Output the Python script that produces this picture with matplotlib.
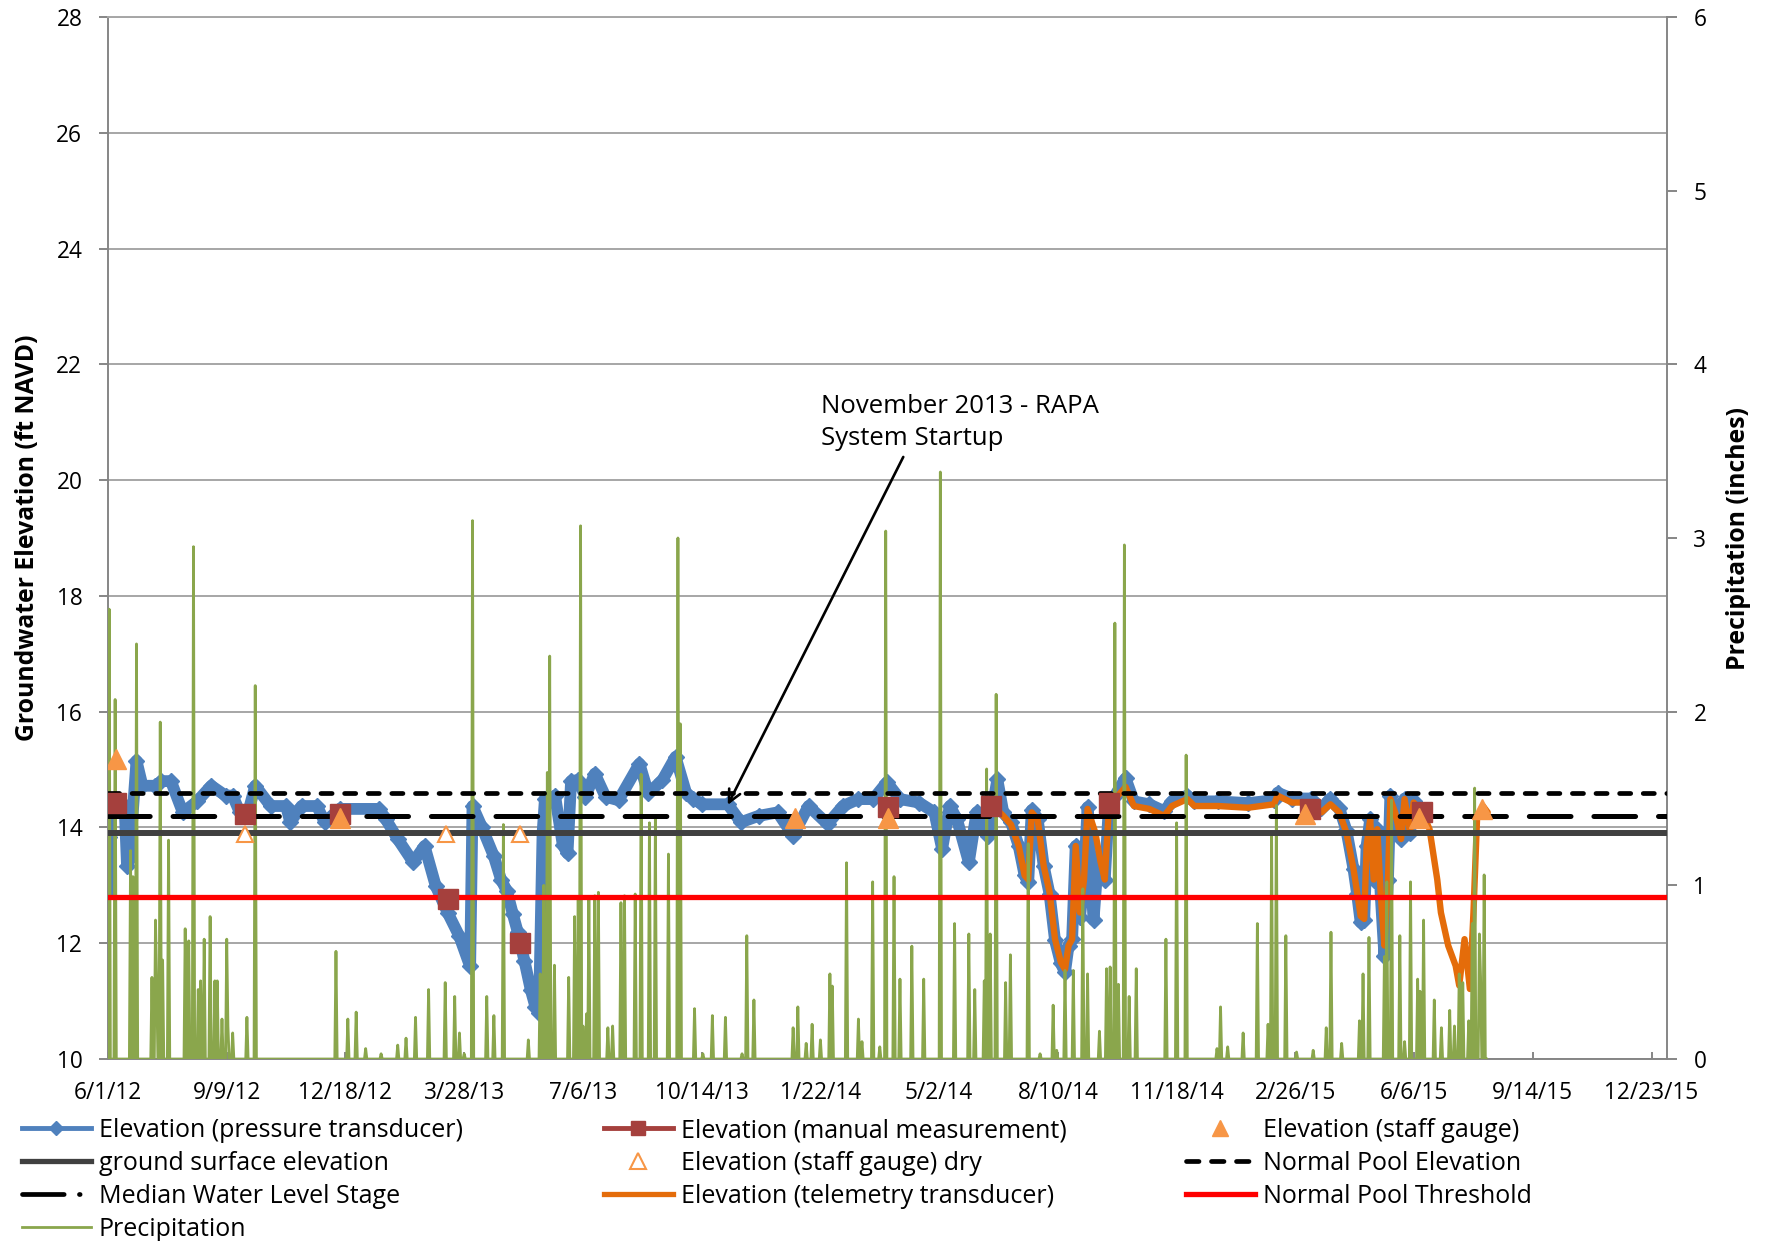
import numpy as np
import matplotlib
matplotlib.use("Agg")
import matplotlib.pyplot as plt
from matplotlib.lines import Line2D
import datetime as dt

plt.rcParams['font.family'] = ['Open Sans', 'DejaVu Sans']
plt.rcParams['lines.scale_dashes'] = False

START = np.datetime64('2012-06-01T00')

# ---------------- data (days after 6/1/2012, values) ----------------
xtick_labels = ['6/1/12', '9/9/12', '12/18/12', '3/28/13', '7/6/13', '10/14/13',
                '1/22/14', '5/2/14', '8/10/14', '11/18/14', '2/26/15', '6/6/15',
                '9/14/15', '12/23/15']

pt_days = [0, 0.5, 1, 14, 16, 18, 24, 29, 40, 45, 53, 63, 75, 87, 99, 105, 111, 118,
           124, 137, 150, 153.5, 163, 176, 182.6, 195, 228, 234, 244, 257, 266.6, 276,
           286, 295.7, 305, 307, 315, 325, 331, 336, 341, 345, 350.7, 356, 360, 363,
           366, 368, 371, 376.5, 383, 387, 390, 396, 402, 410, 419, 430, 447.6, 455,
           467, 478, 487, 493, 500, 522, 533, 548,
           564, 577, 590, 606, 619, 632, 644.5, 656, 667, 683, 696, 702.5, 709, 715,
           725, 731.5, 741, 749, 754, 760.5, 767, 772, 775, 778, 783, 788, 793, 797.6,
           802.5, 806, 809, 812, 815, 818.6, 822, 825, 830, 834, 839.5, 843, 848, 857,
           864, 877, 889.5, 896, 909, 915, 935, 960, 982, 985, 997, 1013, 1022, 1029.5,
           1037, 1043, 1049, 1052, 1055, 1058, 1060, 1063, 1066, 1069, 1072, 1075, 1078,
           1080, 1084, 1089, 1092, 1096.6, 1099.6]
pt_vals = [12.88, 13.83, 14.37, 14.37, 13.34, 13.45, 15.15, 14.72, 14.72, 14.8, 14.8, 14.26,
           14.45, 14.72, 14.55, 14.55, 14.26, 14.26, 14.72, 14.37, 14.37, 14.09, 14.37, 14.37,
           14.09, 14.32, 14.32, 14.14, 13.8, 13.4, 13.68, 12.99, 12.53, 12.13, 11.6, 14.37,
           14.0, 13.5, 13.1, 12.9, 12.5, 12.2, 11.7, 11.2, 10.9, 10.8,
           13.9, 14.5, 14.45, 14.55, 13.7, 13.55, 14.8, 14.82, 14.53, 14.93, 14.53, 14.47,
           15.1, 14.59, 14.82, 15.22, 14.59, 14.5, 14.4, 14.4, 14.09, 14.2,
           14.26, 13.86, 14.37, 14.06, 14.37, 14.49, 14.49, 14.78, 14.49, 14.43, 14.26, 13.63,
           14.37, 14.14, 13.4, 14.26, 13.86, 14.83, 14.26, 14.09, 13.68, 13.17, 13.05, 14.3,
           14.14, 13.34, 12.85, 12.05, 11.65, 11.5, 11.96, 12.07, 13.68, 12.45, 13.1, 14.35,
           12.4, 13.5, 13.1, 14.4, 14.55, 14.85, 14.45, 14.4, 14.28, 14.45, 14.55, 14.45,
           14.45, 14.42, 14.47, 14.6, 14.5, 14.5, 14.33, 14.5, 14.33, 13.95, 13.28, 12.85,
           12.36, 12.4, 13.68, 14.14, 13.1, 13.97, 12.8, 11.78, 13.1, 14.55, 14.3, 13.8,
           14.5, 13.91, 14.45]

tel_days = [749, 754, 760.5, 767, 772, 775, 778, 783, 788, 793, 797.6, 802.5, 806, 809, 812,
            815, 818.6, 822, 825, 831.5, 836, 839.5, 843, 848, 857, 864, 877, 889.5, 896,
            909, 915, 935, 960, 982, 985, 997, 1013, 1022, 1029.5, 1037, 1043, 1049, 1052,
            1055, 1058, 1060, 1063, 1066, 1069, 1072, 1075, 1078, 1080, 1084, 1089, 1092,
            1096.6, 1099.6, 1107, 1113, 1119.5, 1122.6, 1128.7, 1135, 1138, 1142.5, 1147,
            1150, 1153, 1158, 1162]
tel_vals = [14.3, 14.2, 14.05, 13.68, 13.17, 13.1, 14.26, 14.14, 13.34, 12.88, 12.07, 11.67,
            11.55, 11.96, 12.07, 13.68, 12.53, 13.1, 14.32, 13.91, 13.4, 13.1, 14.37, 14.49,
            14.7, 14.37, 14.32, 14.2, 14.37, 14.49, 14.37, 14.37, 14.34, 14.4, 14.55, 14.43,
            14.43, 14.26, 14.4, 14.26, 13.91, 13.28, 12.88, 12.47, 12.42, 13.68, 14.14, 13.1,
            13.97, 12.82, 11.96, 13.1, 14.49, 14.26, 13.8, 14.49, 13.91, 14.43, 14.26, 13.97,
            13.1, 12.53, 11.96, 11.61, 11.27, 12.07, 11.21, 12.53, 14.14, 14.37, 14.26]

manual_days = [6.5, 115, 195.5, 286, 347, 657, 744, 843, 1012, 1107]
manual_vals = [14.43, 14.23, 14.23, 12.76, 12.0, 14.35, 14.37, 14.43, 14.32, 14.26]

staff_days = [6.5, 195.5, 578.4, 657, 1008, 1104, 1157]
staff_vals = [15.18, 14.17, 14.17, 14.17, 14.23, 14.17, 14.32]

dry_days = [115, 285, 347]
dry_vals = [13.88, 13.88, 13.88]

normal_pool_elev = 14.6
median_stage = 14.2
ground_surface = 13.9
normal_pool_threshold = 12.8

rain_days = [1, 6, 19, 21, 24, 37, 40, 41, 44, 46, 51, 65, 68, 72, 76, 78, 81, 86, 90, 92, 96,
             100, 101, 105, 117, 124, 192, 202, 209, 217, 230, 244, 251, 259, 270, 284, 292,
             296, 300, 307, 319, 325, 333, 354, 364, 367, 370, 372, 376, 388, 393, 396, 398,
             400, 403, 405, 410, 413, 421, 425, 432, 435, 444, 449, 456, 461, 472, 480, 482,
             494, 501, 509,
             520, 534, 538, 544, 577, 581, 588, 593, 600, 608, 610, 622, 632, 635, 644, 650,
             655, 662, 667, 677, 687, 701, 713, 725, 730, 738, 740, 743, 748, 756, 760, 775,
             785, 796, 799, 806, 813, 821, 825, 835, 841, 844, 848, 851, 856, 860, 866, 891,
             900, 908, 934, 937, 943, 956, 968, 977, 980, 984, 992, 1001, 1015, 1026, 1030,
             1039, 1054, 1057, 1062, 1075, 1077, 1081, 1088, 1092, 1097, 1103, 1105, 1108,
             1117, 1123, 1130, 1134, 1138, 1141, 1146, 1149, 1151, 1155, 1156, 1159]
rain_in = [2.59, 2.07, 1.2, 1.05, 2.39, 0.47, 0.8, 0.45, 1.94, 0.57, 1.26, 0.75, 0.68, 2.95,
           0.4, 0.45, 0.69, 0.82, 0.45, 0.45, 0.23, 0.69, 0.19, 0.15, 0.24, 2.15, 0.62, 0.23,
           0.27, 0.06, 0.03, 0.08, 0.12, 0.24, 0.4, 0.44, 0.36, 0.15, 0.03, 3.1, 0.36, 0.25,
           1.35, 0.11, 0.49, 1.0, 1.65, 2.32, 0.54, 0.47, 0.82, 0.92, 3.07, 0.19, 0.26, 0.93,
           0.94, 0.96, 0.18, 0.19, 0.9, 0.94, 0.95, 1.64, 1.36, 1.39, 1.18, 3.0, 1.93,
           0.29, 0.03, 0.25,
           0.24, 0.03, 0.71, 0.34, 0.18, 0.3, 0.09, 0.2, 0.11, 0.49, 0.42, 1.13, 0.23, 0.1,
           1.02, 0.07, 3.04, 1.05, 0.46, 0.65, 0.46, 3.38, 0.78, 0.72, 0.4, 0.45, 1.67, 0.72,
           2.1, 0.44, 0.6, 1.24, 0.03, 0.31, 0.05, 0.51, 0.51, 0.98, 0.49, 0.16, 0.52, 0.53,
           2.51, 0.43, 2.96, 0.36, 0.52, 0.69, 1.36, 1.75, 0.06, 0.3, 0.07, 0.15, 0.78, 0.2,
           1.3, 1.46, 0.71, 0.04, 0.05, 0.18, 0.73, 0.09, 0.22, 0.49, 0.7, 0.59, 1.02, 1.49,
           0.71, 0.1, 1.02, 0.46, 0.39, 0.8, 0.34, 0.18, 0.28, 0.19, 0.49, 0.44, 0.22, 0.78,
           1.56, 0.72, 0.47, 1.06]
rain_last_day = 1161

# ---------------- helpers ----------------
def to_dates(days):
    return START + np.round(np.asarray(days, dtype=float) * 24).astype('timedelta64[h]')

tick_dates = [np.datetime64(dt.datetime.strptime(s, '%m/%d/%y'), 'h') for s in xtick_labels]

precip_daily = np.zeros(rain_last_day + 1)
precip_daily[np.array(rain_days)] = rain_in
precip_dates = to_dates(np.arange(rain_last_day + 1))

# ---------------- styles ----------------
C_BLUE = '#4F81BD'
C_MAN = '#A5403D'
C_STAFF = '#F79646'
C_TEL = '#E46C0A'
C_GROUND = '#404040'
C_RED = '#FF0000'
C_GREEN = '#8AA64C'
C_GRID = '#A6A6A6'
C_AXIS = '#868686'
FS_TICK = 16.3
FS_LEG = 18
FS_LAB = 17.8
FS_ANN = 18.5

W, H = 1769, 1241
fig = plt.figure(figsize=(W / 100, H / 100), dpi=100)
rect = [108 / W, 1 - 1059 / H, (1667 - 108) / W, (1059 - 17) / H]
axL = fig.add_axes(rect)
axP = axL.twinx()
axT = axL.twinx()
axL.set_zorder(1)
axP.set_zorder(2)
axT.set_zorder(3)
axP.patch.set_visible(False)
axT.patch.set_visible(False)

xmin = START
xmax = START + np.timedelta64(1313 * 24, 'h')

# bottom layer: transducer series
axL.plot(to_dates(pt_days), pt_vals, color=C_BLUE, lw=8.5, marker='D', ms=8,
         solid_joinstyle='round', solid_capstyle='round')
axL.plot(to_dates(tel_days), tel_vals, color=C_TEL, lw=4.6,
         solid_joinstyle='round', solid_capstyle='round')

# middle layer: precipitation
axP.plot(precip_dates, precip_daily, color=C_GREEN, lw=2.0)

# top layer: reference lines and point measurements
axT.axhline(normal_pool_threshold, color=C_RED, lw=3.8)
axT.axhline(ground_surface, color=C_GROUND, lw=4.3)
axT.axhline(median_stage, color='black', lw=3.6, dashes=(30, 16.5), dash_capstyle='round')
axT.axhline(normal_pool_elev, color='black', lw=3.4, dashes=(8, 9), dash_capstyle='round')
axT.plot(to_dates(manual_days), manual_vals, ls='none', marker='s', ms=14, color=C_MAN)
axT.plot(to_dates(staff_days), staff_vals, ls='none', marker='^', ms=14, color=C_STAFF)
axT.plot(to_dates(dry_days), dry_vals, ls='none', marker='^', ms=12, mfc='white',
         mec=C_STAFF, mew=1.5)

axT.annotate('', xy=(to_dates([522])[0], 14.39), xytext=(to_dates([669.8])[0], 20.4),
             arrowprops=dict(arrowstyle='->', lw=1.9, color='black', shrinkA=0, shrinkB=0,
                             mutation_scale=22))
axT.text(to_dates([600.7])[0], 21.0, 'November 2013 - RAPA\nSystem Startup', ha='left',
         va='center', fontsize=FS_ANN, linespacing=1.38)

# ---------------- axes ----------------
for a in (axL, axP, axT):
    a.set_xlim(xmin, xmax)
axL.set_ylim(10, 28)
axT.set_ylim(10, 28)
axP.set_ylim(0, 6)
axT.axis('off')

axL.set_yticks(range(10, 29, 2))
axL.set_xticks(tick_dates)
axL.set_xticklabels(xtick_labels)
axL.grid(axis='y', color=C_GRID, lw=1.4)
axL.set_axisbelow(True)
axL.tick_params(axis='y', direction='out', length=6.5, width=1.4, color=C_AXIS,
                labelsize=FS_TICK, pad=12)
axL.tick_params(axis='x', direction='in', length=5, width=1.4, color=C_AXIS,
                labelsize=FS_TICK, pad=16)
axP.set_yticks(range(0, 7))
axP.tick_params(axis='y', direction='out', length=7, width=1.4, color=C_AXIS,
                labelsize=FS_TICK, pad=12)

for a in (axL, axP):
    for s in a.spines.values():
        s.set_color(C_AXIS)
        s.set_linewidth(1.4)
axL.spines['top'].set_color(C_GRID)
axL.spines['right'].set_visible(False)
for s in ('left', 'top', 'bottom'):
    axP.spines[s].set_visible(False)

axL.set_ylabel('Groundwater Elevation (ft NAVD)', fontsize=FS_LAB, fontweight='bold')
axL.yaxis.label.set_va('center')
axL.yaxis.set_label_coords((27 - 108) / 1559, 0.5)
axP.set_ylabel('Precipitation (inches)', fontsize=FS_LAB, fontweight='bold', rotation=90)
axP.yaxis.label.set_va('center')
axP.yaxis.set_label_coords((1738 - 108) / 1559, 0.5)

# ---------------- legend ----------------
h_pt = Line2D([], [], color=C_BLUE, lw=3.5, marker='D', ms=7)
h_man = Line2D([], [], color=C_MAN, lw=3.5, marker='s', ms=10)
h_staff = Line2D([], [], color=C_STAFF, ls='none', marker='^', ms=12)
h_ground = Line2D([], [], color=C_GROUND, lw=3.8)
h_dry = Line2D([], [], color=C_STAFF, ls='none', marker='^', ms=11, mfc='white', mew=1.5)
h_npe = Line2D([], [], color='black', lw=3.4, dashes=(9, 9), dash_capstyle='round')
h_med = Line2D([], [], color='black', lw=3.4, dashes=(30, 11, 0.5, 30), dash_capstyle='round')
h_tel = Line2D([], [], color=C_TEL, lw=3.8)
h_thr = Line2D([], [], color=C_RED, lw=3.8)
h_pre = Line2D([], [], color=C_GREEN, lw=2.0)

cols = [
    (22, [h_pt, h_ground, h_med, h_pre],
     ['Elevation (pressure transducer)', 'ground surface elevation',
      'Median Water Level Stage', 'Precipitation']),
    (604, [h_man, h_dry, h_tel],
     ['Elevation (manual measurement)', 'Elevation (staff gauge) dry',
      'Elevation (telemetry transducer)']),
    (1186, [h_staff, h_npe, h_thr],
     ['Elevation (staff gauge)', 'Normal Pool Elevation', 'Normal Pool Threshold']),
]
for xpx, hs, ls in cols:
    fig.legend(hs, ls, loc='upper left', bbox_to_anchor=(xpx / W, 1 - 1118 / H),
               frameon=False, fontsize=FS_LEG, borderpad=0, borderaxespad=0,
               handlelength=2.75, handletextpad=0.32, labelspacing=0.32, numpoints=1)

fig.savefig('out.png', dpi=100)
